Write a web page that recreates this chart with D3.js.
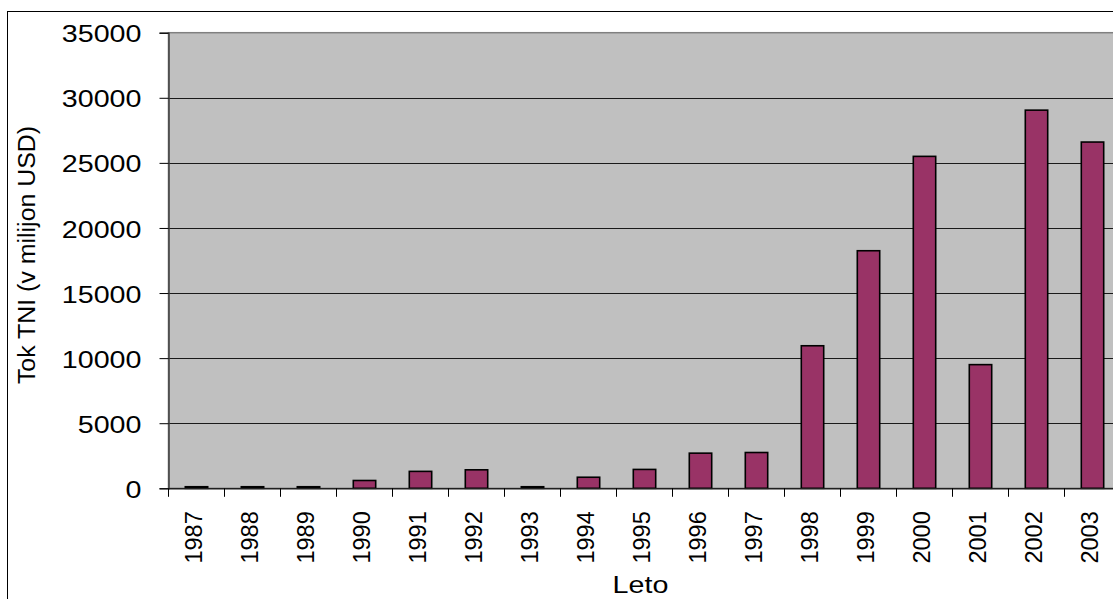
<!DOCTYPE html>
<html>
<head>
<meta charset="utf-8">
<script src="https://cdn.jsdelivr.net/npm/d3@7"></script>
<style>
  html, body { margin: 0; padding: 0; background: #ffffff; overflow: hidden; }
  svg { display: block; }
  text { font-family: "Liberation Sans", Arial, sans-serif; fill: #000; }
</style>
</head>
<body>
<svg id="chart" width="1113" height="599"></svg>
<script>
// ---- data ----
const years = ["1987","1988","1989","1990","1991","1992","1993","1994","1995","1996","1997","1998","1999","2000","2001","2002","2003"];
const fdiValues = [120, 120, 120, 600, 1300, 1420, 120, 850, 1450, 2700, 2750, 10950, 18250, 25500, 9500, 29050, 26600];
const yTicks = [0, 5000, 10000, 15000, 20000, 25000, 30000, 35000];
const yTitle = "Tok TNI (v milijon USD)";
const xTitle = "Leto";

// ---- layout ----
const W = 1113, H = 599;
const plot = { left: 168.5, top: 32.7, right: 1120.5, bottom: 488.3 };

const svg = d3.select("#chart");

// outer chart border
svg.append("rect")
  .attr("x", 7.5).attr("y", 11.5)
  .attr("width", W + 20).attr("height", H + 20)
  .attr("fill", "#fff").attr("stroke", "#000").attr("stroke-width", 1);

const x = d3.scaleBand().domain(years).range([plot.left, plot.right]).paddingInner(0).paddingOuter(0);
const y = d3.scaleLinear().domain([0, 35000]).range([plot.bottom, plot.top]);

// plot background
svg.append("rect")
  .attr("x", plot.left).attr("y", plot.top)
  .attr("width", plot.right - plot.left).attr("height", plot.bottom - plot.top)
  .attr("fill", "#c0c0c0").attr("stroke", "#808080").attr("stroke-width", 1.5);

// gridlines
svg.append("g").selectAll("line")
  .data(yTicks.filter(d => d > 0 && d < 35000))
  .join("line")
  .attr("x1", plot.left).attr("x2", plot.right)
  .attr("y1", d => Math.round(y(d)) + 0.5).attr("y2", d => Math.round(y(d)) + 0.5)
  .attr("stroke", "#1a1a1a").attr("stroke-width", 1.2);

// bars
const barW = x.bandwidth() * 0.40;
svg.append("g").selectAll("rect")
  .data(years.map((yr, i) => ({ yr, v: fdiValues[i] })))
  .join("rect")
  .attr("x", d => x(d.yr) + (x.bandwidth() - barW) / 2)
  .attr("y", d => y(d.v))
  .attr("width", barW)
  .attr("height", d => y(0) - y(d.v))
  .attr("fill", "#993366")
  .attr("stroke", "#000").attr("stroke-width", 1.6);

// y axis
const yAxis = d3.axisLeft(y).tickValues(yTicks).tickSize(9).tickFormat(d3.format("d"));
const gy = svg.append("g").attr("transform", `translate(${plot.left},0)`).call(yAxis);
gy.select(".domain").attr("stroke", "#404040").attr("stroke-width", 1.5);
gy.selectAll(".tick line").attr("stroke", "#000").attr("stroke-width", 1);
gy.selectAll(".tick text").remove();
gy.selectAll(".tick").append("text")
  .attr("text-anchor", "end")
  .attr("dominant-baseline", "central")
  .attr("transform", "translate(-27,1) scale(1.22,1)")
  .style("font-size", "23.5px")
  .text(d => d3.format("d")(d));

// x axis
const xAxis = d3.axisBottom(x).tickSize(0).tickFormat(d => d);
const gx = svg.append("g").attr("transform", `translate(0,${plot.bottom})`).call(xAxis);
gx.select(".domain").attr("stroke", "#202020").attr("stroke-width", 1.5);
gx.selectAll(".tick text").remove();
gx.selectAll(".tick").append("text")
  .attr("text-anchor", "end")
  .attr("transform", "translate(5,23) rotate(-90)")
  .style("font-size", "23.5px")
  .text(d => d);
// category boundary ticks
svg.append("g").selectAll("line")
  .data(years.concat(["end"]))
  .join("line")
  .attr("x1", (d, i) => plot.left + i * x.bandwidth())
  .attr("x2", (d, i) => plot.left + i * x.bandwidth())
  .attr("y1", plot.bottom).attr("y2", plot.bottom + 8.5)
  .attr("stroke", "#000").attr("stroke-width", 1);

// axis titles
svg.append("text")
  .attr("text-anchor", "middle")
  .attr("transform", `translate(${(plot.left + plot.right) / 2 - 4},593) scale(1.22,1)`)
  .style("font-size", "23.5px")
  .text(xTitle);

svg.append("text")
  .attr("text-anchor", "middle")
  .attr("transform", `translate(35,255) rotate(-90) scale(1.06,1)`)
  .style("font-size", "23.5px")
  .text(yTitle);
</script>
</body>
</html>
